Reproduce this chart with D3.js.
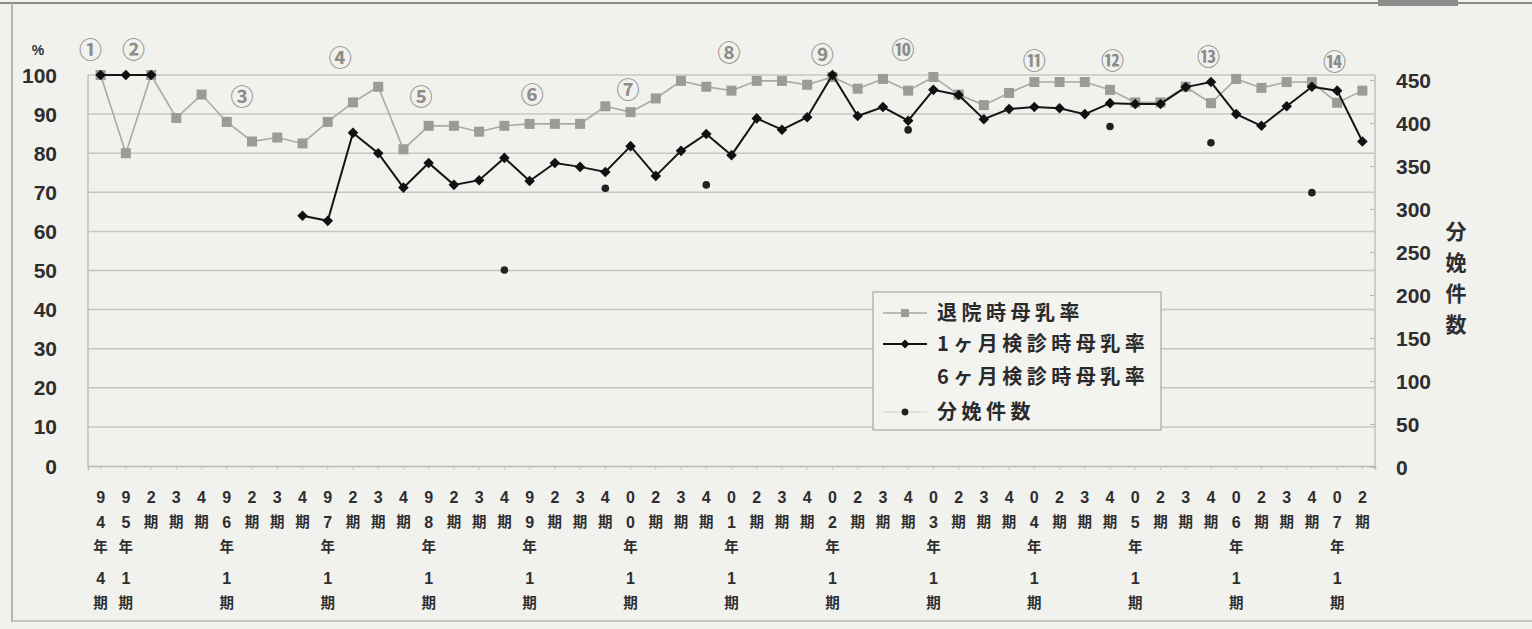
<!DOCTYPE html>
<html>
<head>
<meta charset="utf-8">
<script src="https://cdn.jsdelivr.net/npm/d3@7"></script>
<style>
  body { margin: 0; background: #f1f1ee; }
  svg { display: block; }
</style>
</head>
<body>
<svg id="chart" width="1532" height="629"></svg>
<script>
// x categories, each label is written one character per row
const categories = [
  '94年4期', '95年1期', '2期', '3期', '4期',
  '96年1期', '2期', '3期', '4期',
  '97年1期', '2期', '3期', '4期',
  '98年1期', '2期', '3期', '4期',
  '99年1期', '2期', '3期', '4期',
  '00年1期', '2期', '3期', '4期',
  '01年1期', '2期', '3期', '4期',
  '02年1期', '2期', '3期', '4期',
  '03年1期', '2期', '3期', '4期',
  '04年1期', '2期', '3期', '4期',
  '05年1期', '2期', '3期', '4期',
  '06年1期', '2期', '3期', '4期',
  '07年1期', '2期'
]

// 退院時母乳率 (%)
const dischargeRate = [
  100, 80, 100, 89, 95,
  88, 83, 84, 82.5,
  88, 93, 97, 81,
  87, 87, 85.5, 87,
  87.5, 87.5, 87.5, 92,
  90.5, 94, 98.5, 97,
  96, 98.5, 98.5, 97.5,
  99.5, 96.5, 99, 96,
  99.5, 95, 92.3, 95.4,
  98.2, 98.2, 98.2, 96.2,
  93, 93, 97, 92.8,
  99, 96.7, 98.2, 98.2,
  92.9, 96
]

// 1ヶ月検診時母乳率 (%)
const oneMonthRate = [
  100, 100, 100, null, null,
  null, null, null, 64,
  62.7, 85.2, 80, 71.2,
  77.5, 71.9, 73.1, 78.8,
  72.9, 77.5, 76.5, 75.2,
  81.8, 74.2, 80.6, 84.9,
  79.5, 88.9, 86, 89.2,
  100, 89.5, 91.8, 88.3,
  96.2, 94.9, 88.7, 91.3,
  91.8, 91.5, 90, 92.8,
  92.6, 92.6, 96.9, 98.2,
  90, 87, 92, 97,
  96, 83
]

// 分娩件数 (right axis)
const birthCount = [
  null, null, null, null, null,
  null, null, null, null,
  null, null, null, null,
  null, null, null, 229,
  null, null, null, 324,
  null, null, null, 328,
  null, null, null, null,
  null, null, null, 392,
  null, null, null, null,
  null, null, null, 396,
  null, null, null, 377,
  null, null, null, 319,
  null, null
]

const seriesNames = ['退院時母乳率', '1ヶ月検診時母乳率', '6ヶ月検診時母乳率', '分娩件数']
const rateTicks = d3.range(0, 101, 10)
const countTicks = d3.range(0, 451, 50)

// circled notes: category index they sit over, and level in % units
const noteLabels = ['①', '②', '③', '④', '⑤', '⑥', '⑦', '⑧', '⑨', '⑩', '⑪', '⑫', '⑬', '⑭']
const noteAt = [-0.4, 1.3, 5.6, 9.5, 12.7, 17.1, 20.9, 24.9, 28.6, 31.8, 37.0, 40.1, 43.9, 48.9]
const noteLevel = [106.4, 106.4, 94.4, 104.3, 94.4, 94.9, 96.2, 105.6, 105.1, 106.4, 103.6, 103.6, 104.6, 103.3]

const numFont = '"Liberation Sans", Arial, sans-serif'
const jpFont = '"Noto Sans CJK JP", sans-serif'

var svg = d3.select('#chart')

var x = d3.scaleBand()
  .domain(d3.range(categories.length))
  .range([88, 1375])
  .padding(0)

var y = d3.scaleLinear().domain([0, 100]).range([466, 75])
var y2 = d3.scaleLinear().domain([0, 450]).range([467, 80])

function cx (i) { return x(i) + x.bandwidth() / 2 }

/**
 * Scanned page frame
 *
 * @param {*} g selection
 */
function drawFrame (g) {
  g.append('line').attr('x1', 0).attr('x2', 1532).attr('y1', 3).attr('y2', 3)
    .attr('stroke', '#8a8a88').attr('stroke-width', 2)
  g.append('rect').attr('x', 1378).attr('y', 0).attr('width', 80).attr('height', 6)
    .attr('fill', '#8c8c8a')
  g.append('line').attr('x1', 12).attr('x2', 12).attr('y1', 3).attr('y2', 622)
    .attr('stroke', '#b5b5b2').attr('stroke-width', 2)
  g.append('line').attr('x1', 12).attr('x2', 1532).attr('y1', 621).attr('y2', 621)
    .attr('stroke', '#c4c4c1').attr('stroke-width', 2)
}

/**
 * Gridlines and axes
 *
 * @param {*} g selection
 */
function drawAxes (g) {
  g.append('g')
    .selectAll('line')
    .data(rateTicks.filter(d => d > 0))
    .enter()
    .append('line')
    .attr('x1', 88)
    .attr('x2', 1375)
    .attr('y1', d => y(d))
    .attr('y2', d => y(d))
    .attr('stroke', '#c6c6c3')
    .attr('stroke-width', 1.5)

  // plot borders
  g.append('line').attr('x1', 88).attr('x2', 88).attr('y1', y(100)).attr('y2', y(0))
    .attr('stroke', '#c0c0bd').attr('stroke-width', 1.5)
  g.append('line').attr('x1', 1375).attr('x2', 1375).attr('y1', y(100)).attr('y2', y(0))
    .attr('stroke', '#c0c0bd').attr('stroke-width', 1.5)

  var xAxis = g.append('g')
    .attr('transform', 'translate(0,' + y(0) + ')')
    .call(d3.axisBottom(x).tickSize(4).tickFormat(''))
  xAxis.select('.domain').attr('stroke', '#b8b8b5').attr('stroke-width', 1.5)
  xAxis.selectAll('.tick line').attr('stroke', '#c8c8c5')

  var right = g.append('g')
    .attr('transform', 'translate(1375,0)')
    .call(d3.axisRight(y2).tickValues(countTicks).tickSize(-5).tickFormat(''))
  right.select('.domain').remove()
  right.selectAll('.tick line').attr('stroke', '#b8b8b5')

  // left labels
  g.append('g')
    .selectAll('text')
    .data(rateTicks)
    .enter()
    .append('text')
    .attr('x', 57)
    .attr('y', d => y(d))
    .attr('dy', '0.36em')
    .attr('text-anchor', 'end')
    .attr('font-family', numFont)
    .attr('font-size', 21)
    .attr('font-weight', 'bold')
    .attr('fill', '#2e2e2e')
    .text(d => d)

  g.append('text')
    .attr('x', 38)
    .attr('y', 50)
    .attr('dy', '0.36em')
    .attr('text-anchor', 'middle')
    .attr('font-family', numFont)
    .attr('font-size', 14)
    .attr('font-weight', 'bold')
    .attr('fill', '#333')
    .text('%')

  // right labels
  g.append('g')
    .selectAll('text')
    .data(countTicks)
    .enter()
    .append('text')
    .attr('x', 1396)
    .attr('y', d => y2(d))
    .attr('dy', '0.36em')
    .attr('font-family', numFont)
    .attr('font-size', 21)
    .attr('font-weight', 'bold')
    .attr('fill', '#2e2e2e')
    .text(d => d)

  // right axis title, vertical
  var title = Array.from(seriesNames[3])
  g.append('g')
    .selectAll('text')
    .data(title)
    .enter()
    .append('text')
    .attr('x', 1456)
    .attr('y', (d, k) => 231 + k * 31)
    .attr('dy', '0.36em')
    .attr('text-anchor', 'middle')
    .attr('font-family', jpFont)
    .attr('font-size', 21)
    .attr('font-weight', 'bold')
    .attr('fill', '#2e2e2e')
    .text(d => d)

  // x labels, stacked characters
  var rows = [497, 522, 547, 578, 603]
  var lab = g.append('g')
  categories.forEach(function (c, i) {
    Array.from(c).forEach(function (ch, k) {
      var digit = /[0-9]/.test(ch)
      lab.append('text')
        .attr('x', cx(i))
        .attr('y', rows[k])
        .attr('dy', '0.36em')
        .attr('text-anchor', 'middle')
        .attr('font-family', digit ? numFont : jpFont)
        .attr('font-size', digit ? 16 : 14.5)
        .attr('font-weight', 'bold')
        .attr('fill', '#2e2e2e')
        .text(ch)
    })
  })
}

/**
 * Lines, markers and dots
 *
 * @param {*} g selection
 */
function drawSeries (g) {
  var line = d3.line()
    .defined(d => d != null)
    .x((d, i) => cx(i))
    .y(d => y(d))

  g.append('path')
    .datum(dischargeRate)
    .attr('d', line)
    .attr('fill', 'none')
    .attr('stroke', '#a9a9a6')
    .attr('stroke-width', 1.6)

  g.append('g')
    .selectAll('rect')
    .data(dischargeRate.map((v, i) => ({ v, i })).filter(d => d.v != null))
    .enter()
    .append('rect')
    .attr('x', d => cx(d.i) - 5)
    .attr('y', d => y(d.v) - 5)
    .attr('width', 10)
    .attr('height', 10)
    .attr('fill', '#9b9b98')

  g.append('path')
    .datum(oneMonthRate)
    .attr('d', line)
    .attr('fill', 'none')
    .attr('stroke', '#151515')
    .attr('stroke-width', 2)

  var diamond = d3.symbol().type(d3.symbolSquare).size(56)
  g.append('g')
    .selectAll('path')
    .data(oneMonthRate.map((v, i) => ({ v, i })).filter(d => d.v != null))
    .enter()
    .append('path')
    .attr('d', diamond)
    .attr('transform', d => 'translate(' + cx(d.i) + ',' + y(d.v) + ') rotate(45)')
    .attr('fill', '#111')

  g.append('g')
    .selectAll('circle')
    .data(birthCount.map((v, i) => ({ v, i })).filter(d => d.v != null))
    .enter()
    .append('circle')
    .attr('cx', d => cx(d.i))
    .attr('cy', d => y2(d.v))
    .attr('r', 3.8)
    .attr('fill', '#222')
}

/**
 * Circled period numbers
 *
 * @param {*} g selection
 */
function drawNotes (g) {
  g.append('g')
    .selectAll('text')
    .data(noteLabels)
    .enter()
    .append('text')
    .attr('x', (d, k) => 88 + (noteAt[k] + 0.5) * x.bandwidth())
    .attr('y', (d, k) => y(noteLevel[k]))
    .attr('dy', '0.36em')
    .attr('text-anchor', 'middle')
    .attr('font-family', jpFont)
    .attr('font-size', 23)
    .attr('font-weight', 'bold')
    .attr('fill', '#8c8c89')
    .text(d => d)
}

/**
 * Legend box
 *
 * @param {*} g selection
 */
function drawLegend (g) {
  var lg = g.append('g')
  lg.append('rect')
    .attr('x', 873)
    .attr('y', 292)
    .attr('width', 288)
    .attr('height', 138)
    .attr('fill', '#f3f3f0')
    .attr('stroke', '#a8a8a5')
    .attr('stroke-width', 1.2)

  var rowsY = [313, 344, 377, 412]
  seriesNames.forEach(function (name, k) {
    lg.append('text')
      .attr('x', 937)
      .attr('y', rowsY[k])
      .attr('dy', '0.36em')
      .attr('font-family', jpFont)
      .attr('font-size', 20)
      .attr('font-weight', 'bold')
      .attr('letter-spacing', 4.5)
      .attr('fill', '#2a2a2a')
      .text(name)
  })

  lg.append('line').attr('x1', 883).attr('x2', 927).attr('y1', rowsY[0]).attr('y2', rowsY[0])
    .attr('stroke', '#a9a9a6').attr('stroke-width', 1.6)
  lg.append('rect').attr('x', 901).attr('y', rowsY[0] - 4).attr('width', 8).attr('height', 8)
    .attr('fill', '#9b9b98')

  lg.append('line').attr('x1', 883).attr('x2', 927).attr('y1', rowsY[1]).attr('y2', rowsY[1])
    .attr('stroke', '#151515').attr('stroke-width', 2)
  lg.append('path')
    .attr('d', d3.symbol().type(d3.symbolSquare).size(40))
    .attr('transform', 'translate(905,' + rowsY[1] + ') rotate(45)')
    .attr('fill', '#111')

  lg.append('line').attr('x1', 883).attr('x2', 927).attr('y1', rowsY[3]).attr('y2', rowsY[3])
    .attr('stroke', '#d0d0cd').attr('stroke-width', 1)
  lg.append('circle').attr('cx', 905).attr('cy', rowsY[3]).attr('r', 3.4).attr('fill', '#222')
}

drawFrame(svg)
drawAxes(svg)
drawSeries(svg)
drawNotes(svg)
drawLegend(svg)
</script>
</body>
</html>
